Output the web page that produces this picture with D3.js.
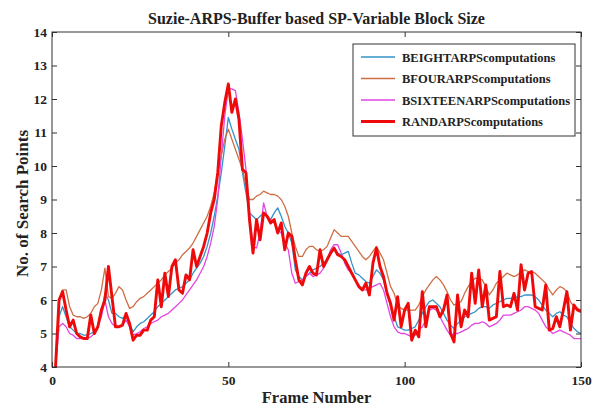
<!DOCTYPE html>
<html>
<head>
<meta charset="utf-8">
<script src="https://cdn.jsdelivr.net/npm/d3@7"></script>
<style>
  body { margin: 0; background: #fff; }
  text { font-family: "Liberation Serif", "Times New Roman", serif; font-weight: bold; fill: #222; }
</style>
</head>
<body>
<svg id="chart" width="597" height="407"></svg>
<script>
// data, frame 1..150
const frames = d3.range(1, 151);

const beight = [
  4.0, 5.5, 5.8, 5.5, 5.2, 5.1, 5.0, 5.0, 4.95, 4.95,
  5.0, 5.05, 5.2, 5.6, 6.2, 6.0, 5.6, 5.6, 5.5, 5.45,
  5.55, 5.3, 5.05, 5.2, 5.3, 5.35, 5.45, 5.55, 5.65, 5.8,
  5.9, 6.0, 6.1, 6.2, 6.3, 6.35, 6.4, 6.5, 6.6, 6.8,
  6.95, 7.1, 7.3, 7.6, 8.0, 8.5, 9.1, 9.8, 10.6, 11.45,
  11.1, 10.8, 10.5, 9.8, 9.2, 8.6, 8.5, 8.4, 8.5, 8.6,
  8.5, 8.4, 8.6, 8.75, 8.5, 8.2, 8.0, 7.7, 6.9, 6.7,
  6.6, 6.7, 6.8, 6.9, 6.95, 7.0, 7.1, 7.2, 7.4, 7.55,
  7.4, 7.35, 7.4, 7.45, 7.1, 6.8, 6.75, 6.65, 6.55, 6.5,
  6.7, 6.9, 6.8, 6.6, 6.2, 5.8, 5.5, 5.2, 5.15, 5.1,
  5.1, 5.15, 5.2, 5.4, 5.6, 5.8, 5.95, 6.0, 5.9, 5.8,
  5.6, 5.4, 5.25, 5.15, 5.3, 5.4, 5.5, 5.55, 5.6, 5.65,
  5.75, 5.8, 5.8, 5.75, 5.85, 5.9, 5.95, 6.0, 6.05, 6.05,
  6.05, 6.1, 6.1, 6.15, 6.15, 6.15, 6.1, 6.0, 5.85, 5.7,
  5.6, 5.5, 5.6, 5.65, 5.55, 5.5, 5.3, 5.15, 5.05, 5.0
];

const bfour = [
  4.0, 6.0, 6.3, 6.3, 5.8, 5.55, 5.5, 5.5, 5.45, 5.5,
  5.6, 5.8, 5.9, 6.3, 6.95, 6.1, 6.05, 6.2, 6.4, 6.3,
  6.0, 5.75, 5.8, 5.95, 6.05, 6.1, 6.2, 6.3, 6.4, 6.5,
  6.6, 6.75, 6.85, 6.95, 7.1, 7.2, 7.35, 7.45, 7.55, 7.7,
  7.9, 8.1, 8.3, 8.5, 8.8, 9.2, 9.8, 10.3, 10.8, 11.1,
  10.8, 10.5, 10.2, 9.9, 9.4, 9.0, 9.0, 9.1, 9.15, 9.25,
  9.2, 9.15, 9.15, 9.1, 9.0, 8.8, 8.5, 8.0, 7.6, 7.3,
  7.3, 7.5, 7.6, 7.6, 7.5, 7.45, 7.5, 7.6, 7.85, 8.1,
  8.0, 7.9, 7.9, 7.9, 7.75, 7.6, 7.45, 7.3, 7.2, 7.3,
  7.45, 7.6, 7.4, 7.2, 6.8, 6.4, 6.2, 5.85, 5.75, 5.7,
  5.7, 5.7, 5.7, 5.85, 6.1, 6.3, 6.45, 6.6, 6.7, 6.6,
  6.45, 6.25, 6.0, 5.85, 5.9, 5.95, 6.2, 6.4, 6.55, 6.65,
  6.65, 6.6, 6.4, 6.15, 6.3, 6.5, 6.6, 6.7, 6.8, 6.75,
  6.7, 6.75, 6.85, 6.9, 6.85, 6.85, 6.8, 6.7, 6.6, 6.5,
  6.3, 6.15, 6.3, 6.4, 6.35, 6.25, 5.95, 5.8, 5.75, 5.7
];

const bsixteen = [
  4.0, 5.2, 5.3, 5.2, 5.0, 4.95, 4.85, 4.85, 4.85, 4.85,
  4.9, 5.0, 5.2, 5.5, 6.0, 5.5, 5.3, 5.2, 5.2, 5.25,
  5.4, 5.2, 4.95, 5.0, 5.05, 5.15, 5.2, 5.3, 5.35, 5.4,
  5.5, 5.55, 5.6, 5.7, 5.8, 5.9, 6.0, 6.15, 6.3, 6.45,
  6.6, 6.8, 7.0, 7.3, 7.7, 8.2, 9.0, 10.3, 11.5, 12.3,
  12.3, 12.25, 11.6, 10.8, 9.9, 8.6, 7.6, 7.55, 8.0, 8.9,
  8.5, 8.4, 8.3, 8.1, 8.0, 7.7, 7.5, 6.8, 6.5, 6.55,
  6.6, 6.7, 6.8, 6.7, 6.75, 6.8, 6.95, 7.2, 7.5, 7.65,
  7.65, 7.4, 7.1, 6.9, 6.8, 6.6, 6.45, 6.3, 6.3, 6.35,
  6.4, 6.45, 6.5, 6.3, 5.9, 5.5, 5.2, 5.05, 5.0, 5.0,
  4.95, 4.9, 4.95, 5.1, 5.2, 5.4, 5.7, 5.75, 5.7, 5.5,
  5.3, 5.1, 4.95, 5.0, 5.0, 5.05, 5.1, 5.15, 5.25, 5.3,
  5.3, 5.35, 5.3, 5.2, 5.25, 5.3, 5.4, 5.55, 5.55, 5.55,
  5.6, 5.65, 5.7, 5.8, 5.8, 5.75, 5.7, 5.6, 5.4, 5.2,
  5.1, 5.0, 5.05, 5.1, 5.05, 5.0, 4.95, 4.85, 4.85, 4.85
];

const rand = [
  4.0, 6.0, 6.25, 5.7, 5.2, 5.4, 5.0, 4.9, 4.85, 4.85,
  5.55, 5.0, 5.2, 5.7, 6.0, 7.0, 6.1, 5.2, 5.2, 5.25,
  5.6, 5.3, 4.8, 4.95, 4.95, 5.1, 5.1, 5.4, 5.5, 6.6,
  5.8, 6.8, 6.1, 7.0, 7.2, 6.3, 6.2, 6.75, 6.6, 7.5,
  7.0, 7.3, 7.6, 8.0, 8.6, 9.0, 9.8, 11.2, 11.9, 12.45,
  11.6, 12.0, 11.4, 9.9, 9.8, 8.4, 7.4, 8.4, 7.8, 8.6,
  8.5, 8.3, 8.4, 8.0, 8.3, 7.5, 8.0, 7.9, 7.2, 6.6,
  6.45, 6.8, 7.0, 6.8, 6.75, 7.5, 7.0, 7.2, 7.4, 7.55,
  7.35, 7.3, 7.2, 7.0, 6.8, 6.6, 6.4, 6.3, 6.5, 6.15,
  7.1, 7.55, 7.0, 6.7, 6.2, 5.9, 5.4, 6.1, 5.2, 5.7,
  5.9, 4.8, 5.1, 4.9, 6.25, 5.2, 5.8, 5.8, 5.8, 5.5,
  5.7, 6.15, 5.0, 4.75, 6.15, 5.2, 5.7, 5.5, 6.8, 5.9,
  6.9, 5.8, 6.45, 5.4, 5.45, 5.5, 6.85, 5.8, 5.85, 5.8,
  6.2, 5.7, 7.05, 6.3, 6.8, 6.85, 5.8, 5.75, 5.7, 6.45,
  5.1, 5.15, 5.5, 5.2, 5.7, 6.25, 5.1, 5.85, 5.7, 5.65
];

const seriesNames = ["BEIGHTARPScomputations", "BFOURARPScomputations", "BSIXTEENARPScomputations", "RANDARPScomputations"];
const seriesValues = [beight, bfour, bsixteen, rand];
const seriesColors = ["#3593c8", "#cf6e45", "#e246e2", "#ee0a0a"];
const seriesWidths = [1.3, 1.3, 1.3, 2.9];

const xTicks = [0, 50, 100, 150];
const yTicks = d3.range(4, 15);

// plot box
const boxL = 52, boxR = 581, boxT = 32, boxB = 367;

const svg = d3.select("#chart");

const x = d3.scaleLinear().domain([0, 150]).range([boxL, boxR]);
const y = d3.scaleLinear().domain([4, 14]).range([boxB, boxT]);

svg.append("defs").append("clipPath").attr("id", "clip")
  .append("rect")
  .attr("x", boxL).attr("y", boxT - 2)
  .attr("width", boxR - boxL).attr("height", boxB - boxT + 2);

// lines
const line = d3.line().x((d, i) => x(frames[i])).y(d => y(d));

const lines = svg.append("g").attr("clip-path", "url(#clip)");
seriesValues.forEach((vals, k) => {
  lines.append("path")
    .datum(vals)
    .attr("d", line)
    .attr("fill", "none")
    .attr("stroke", seriesColors[k])
    .attr("stroke-width", seriesWidths[k])
    .attr("stroke-linejoin", "round");
});

// axes, ticks pointing inward
const axisColor = "#333";
const styleAxis = g => {
  g.select(".domain").remove();
  g.selectAll("line").attr("stroke", axisColor);
  g.selectAll("text").style("font-size", "13.5px").attr("fill", "#222");
};

svg.append("g")
  .attr("transform", `translate(0,${boxB})`)
  .call(d3.axisBottom(x).tickValues(xTicks).tickSize(-5).tickPadding(8))
  .call(styleAxis);

svg.append("g")
  .attr("transform", `translate(0,${boxT})`)
  .call(d3.axisTop(x).tickValues(xTicks).tickSize(-5).tickFormat(""))
  .call(styleAxis);

svg.append("g")
  .attr("transform", `translate(${boxL},0)`)
  .call(d3.axisLeft(y).tickValues(yTicks).tickSize(-5).tickPadding(5))
  .call(styleAxis);

svg.append("g")
  .attr("transform", `translate(${boxR},0)`)
  .call(d3.axisRight(y).tickValues(yTicks).tickSize(-5).tickFormat(""))
  .call(styleAxis);

svg.append("rect")
  .attr("x", boxL).attr("y", boxT)
  .attr("width", boxR - boxL).attr("height", boxB - boxT)
  .attr("fill", "none")
  .attr("stroke", axisColor)
  .attr("stroke-width", 1);

// title and axis labels
svg.append("text")
  .attr("x", (boxL + boxR) / 2).attr("y", 24)
  .attr("text-anchor", "middle")
  .style("font-size", "16px")
  .text("Suzie-ARPS-Buffer based SP-Variable Block Size");

svg.append("text")
  .attr("x", (boxL + boxR) / 2).attr("y", 403)
  .attr("text-anchor", "middle")
  .style("font-size", "16.5px")
  .text("Frame Number");

svg.append("text")
  .attr("transform", `translate(28,${(boxT + boxB) / 2 + 4}) rotate(-90)`)
  .attr("text-anchor", "middle")
  .style("font-size", "17px")
  .text("No. of Search Points");

// legend
const legend = svg.append("g").attr("transform", "translate(353,44)");
legend.append("rect")
  .attr("width", 222).attr("height", 92)
  .attr("fill", "#fff")
  .attr("stroke", axisColor)
  .attr("stroke-width", 1);

seriesNames.forEach((name, i) => {
  const row = legend.append("g").attr("transform", `translate(0,${13 + i * 21.5})`);
  row.append("line")
    .attr("x1", 8).attr("x2", 42)
    .attr("stroke", seriesColors[i])
    .attr("stroke-width", seriesWidths[i]);
  row.append("text")
    .attr("x", 49).attr("y", 4.5)
    .style("font-size", "12.5px")
    .text(name);
});
</script>
</body>
</html>
